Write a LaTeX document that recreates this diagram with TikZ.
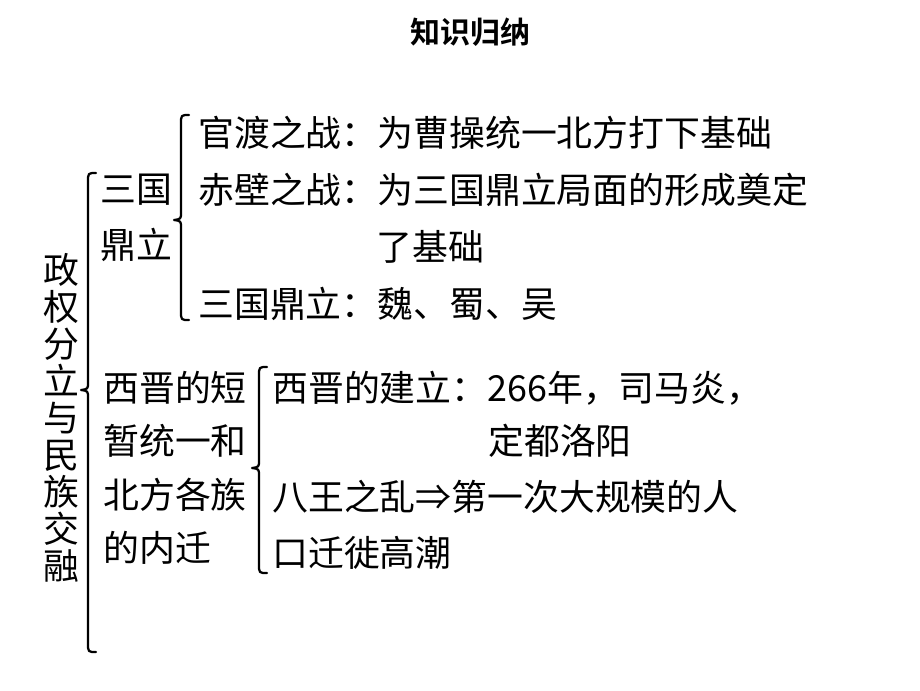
\documentclass[tikz,border=0pt]{standalone}
\usepackage{fontspec}
\setmainfont{Noto Sans CJK SC}
\newfontfamily\cjkbold{Noto Sans CJK SC Bold}
\tikzset{
    item/.style={anchor=west, inner sep=0pt, font=\fontsize{26.9}{28}\selectfont},
    brace line/.style={line width=1.7pt, line cap=round, line join=round},
}
% #1 x of the brace, #2 top, #3 tip, #4 bottom
\newcommand{\drawbrace}[4]{%
    \draw[brace line] ({#1+8},#2) .. controls (#1,#2) .. ({#1},{#2+9}) -- (#1,{#3-8})
        .. controls (#1,{#3-1}) .. ({#1-7},#3) .. controls (#1,{#3+1}) .. (#1,{#3+8})
        -- (#1,{#4-9}) .. controls (#1,#4) .. ({#1+8},#4);}
\begin{document}
\begin{tikzpicture}[x=0.75pt,y=-0.75pt]
    \useasboundingbox (0,0) rectangle (920,690);
    \node[inner sep=0pt, font=\cjkbold\fontsize{22.5}{24}\selectfont] (title) at (470,32) {知识归纳};
    \node[inner sep=0pt, align=center, font=\fontsize{26.9}{27.75}\selectfont] (theme) at (61,418)
        {政\\权\\分\\立\\与\\民\\族\\交\\融};
    % first branch
    \node[item] (sg1) at (100,190) {三国};
    \node[item] (sg2) at (100,245) {鼎立};
    \node[item] (guandu) at (198,133) {官渡之战：为曹操统一北方打下基础};
    \node[item] (chibi) at (198,190) {赤壁之战：为三国鼎立局面的形成奠定};
    \node[item] (chibi2) at (376,247) {了基础};
    \node[item] (dingli) at (198,304) {三国鼎立：魏、蜀、吴};
    % second branch
    \node[item] (xj1) at (103,388) {西晋的短};
    \node[item] (xj2) at (103,441) {暂统一和};
    \node[item] (xj3) at (103,495) {北方各族};
    \node[item] (xj4) at (103,548) {的内迁};
    \node[item] (jianli) at (272,388) {西晋的建立：266年，司马炎，};
    \node[item] (jianli2) at (488,441) {定都洛阳};
    \node[item] (bawang) at (272,497) {八王之乱⇒第一次大规模的人};
    \node[item] (bawang2) at (272,553) {口迁徙高潮};
    % braces
    \drawbrace{88}{173}{390}{652}
    \drawbrace{181}{115}{220}{320}
    \drawbrace{259}{367}{468}{573}
\end{tikzpicture}
\end{document}
